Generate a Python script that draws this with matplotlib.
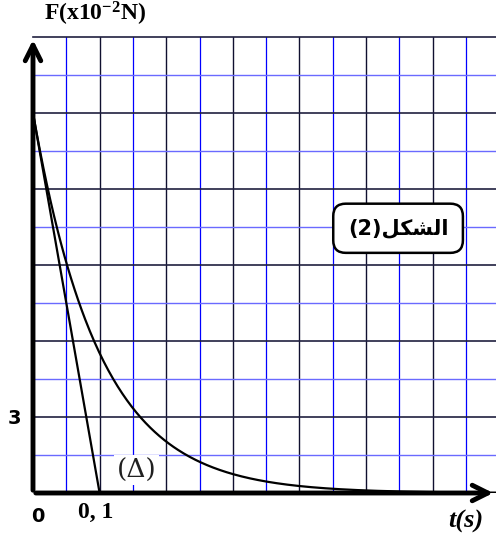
import matplotlib.pyplot as plt
import numpy as np

plt.rcParams['mathtext.fontset'] = 'custom'
plt.rcParams['mathtext.rm'] = 'Liberation Serif:bold'
plt.rcParams['mathtext.bf'] = 'Liberation Serif:bold'
plt.rcParams['mathtext.it'] = 'Liberation Serif:bold:italic'

# valeurs
F0 = 15.0          # x10^-2 N
tau = 0.1          # s
t_max = 0.695
F_max = 18.0
x_ticks_major = np.arange(0, 0.71, 0.1)
x_ticks_minor = np.arange(0.05, 0.71, 0.1)
y_ticks_major = np.arange(0, 18.1, 3)
y_ticks_minor = np.arange(1.5, 18, 3)

t = np.linspace(0, t_max, 400)
F = F0 * np.exp(-t / tau)
t_tan = [0, tau]
F_tan = [F0, 0]

fig = plt.figure(figsize=(4.96, 5.37), dpi=100)
ax = fig.add_axes([33 / 496, 44 / 537, 463 / 496, 456 / 537])
ax.set_xlim(0, t_max)
ax.set_ylim(0, F_max)

# quadrillage
for x in x_ticks_minor:
    ax.axvline(x, color='#0000ff', lw=0.9, zorder=1)
for x in x_ticks_major[1:]:
    ax.axvline(x, color='#101030', lw=1.0, zorder=1)
for y in y_ticks_minor:
    ax.axhline(y, color='#6a6aff', lw=1.0, zorder=1)
for y in y_ticks_major[1:]:
    ax.axhline(y, color='#202040', lw=1.2, zorder=1, clip_on=False)

for s in ax.spines.values():
    s.set_visible(False)
ax.set_xticks([])
ax.set_yticks([])

# courbes
ax.plot(t, F, color='black', lw=1.6, zorder=3)
ax.plot(t_tan, F_tan, color='black', lw=1.6, zorder=3)

# axes avec fleches
ax.annotate('', xy=(t_max, 0), xytext=(0, 0), xycoords='data',
            arrowprops=dict(arrowstyle='->', lw=3.5, color='black', mutation_scale=28),
            annotation_clip=False, zorder=5)
ax.annotate('', xy=(0, F_max), xytext=(0, 0), xycoords='data',
            arrowprops=dict(arrowstyle='->', lw=3.5, color='black', mutation_scale=28),
            annotation_clip=False, zorder=5)

# textes
fig.text(44 / 496, 1 - 14 / 537, r'F(x10$^{\mathbf{-2}}$N)', family='Liberation Serif',
         fontweight='bold', fontsize=17, va='center', ha='left')
fig.text(14 / 496, 1 - 418 / 537, '3', fontweight='bold', fontsize=14, va='center', ha='center')
fig.text(38 / 496, 1 - 517 / 537, '0', fontweight='bold', fontsize=14, va='center', ha='center')
fig.text(96 / 496, 1 - 512 / 537, '0, 1', family='Liberation Serif', fontweight='bold',
         fontsize=17, va='center', ha='center')
fig.text(466 / 496, 1 - 521 / 537, 't(s)', family='Liberation Serif', fontweight='bold',
         style='italic', fontsize=19, va='center', ha='center')
ax.text(0.156, 0.9, '(Δ)', family='DejaVu Serif', fontsize=19, color='#202020',
        va='center', ha='center', zorder=4,
        bbox=dict(boxstyle='square,pad=0.1', fc='white', ec='none'))

# الشكل(2) - formes de presentation en ordre visuel
label = '(2)' + '\uFEDE\uFEDC\uFEB8\uFEDF\uFE8D'
ax.text(0.548, 10.45, label, family='DejaVu Sans', fontweight='bold', fontsize=15,
        va='center', ha='center', zorder=6,
        bbox=dict(boxstyle='round,pad=0.7,rounding_size=0.6', fc='white', ec='black', lw=1.8))

fig.savefig('out.png', dpi=100)
